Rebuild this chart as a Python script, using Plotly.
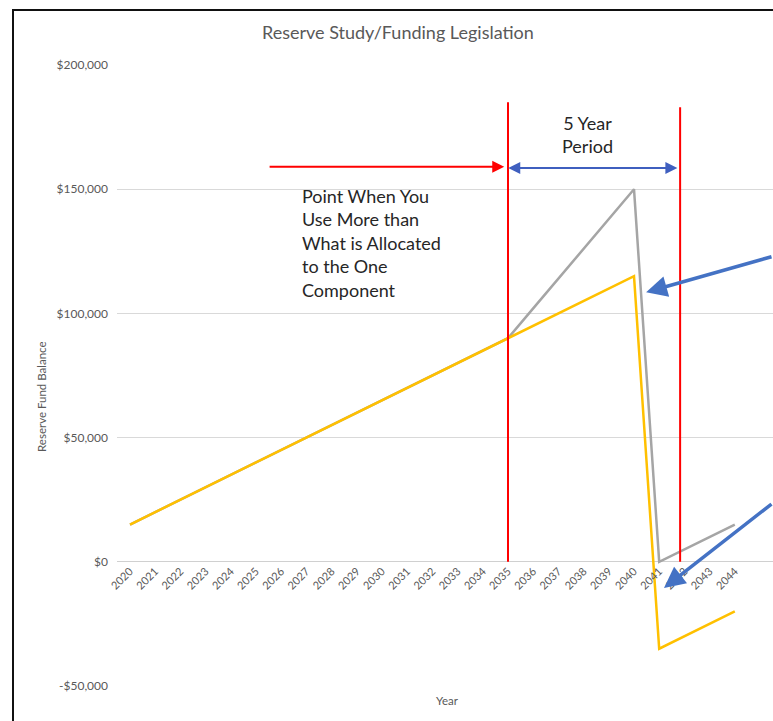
import plotly.graph_objects as go

# Reserve fund balance by year
years = [2020, 2021, 2022, 2023, 2024, 2025, 2026, 2027, 2028, 2029,
         2030, 2031, 2032, 2033, 2034, 2035, 2036, 2037, 2038, 2039,
         2040, 2041, 2042, 2043, 2044]

full_funding = [15000, 20000, 25000, 30000, 35000, 40000, 45000, 50000,
                55000, 60000, 65000, 70000, 75000, 80000, 85000, 90000,
                102000, 114000, 126000, 138000, 150000, 0, 5000, 10000,
                15000]

allocated_only = [15000, 20000, 25000, 30000, 35000, 40000, 45000, 50000,
                  55000, 60000, 65000, 70000, 75000, 80000, 85000, 90000,
                  95000, 100000, 105000, 110000, 115000, -35000, -30000,
                  -25000, -20000]

y_ticks = [-50000, 0, 50000, 100000, 150000, 200000]
y_tick_text = ["-$50,000", "$0", "$50,000", "$100,000", "$150,000", "$200,000"]

W, H = 773, 721
ML, MR, MT, MB = 117, 0, 65, 35
PW, PH = W - ML - MR, H - MT - MB

FONT = "Lato"
GREY_TXT = "#595959"
RED = "#FF0000"
BLUE = "#4472C4"
DARK_BLUE = "#3F5FBF"


def px_x(px):
    return (px - ML) / PW


def px_y(py):
    return (H - MB - py) / PH


fig = go.Figure()
fig.add_trace(go.Scatter(x=years, y=full_funding, mode="lines",
                         line=dict(color="#A5A5A5", width=2.5),
                         name="Full funding", hoverinfo="skip"))
fig.add_trace(go.Scatter(x=years, y=allocated_only, mode="lines",
                         line=dict(color="#FFC000", width=2.5),
                         name="Allocated", hoverinfo="skip"))

shapes = [
    # outer chart frame
    dict(type="rect", xref="paper", yref="paper",
         x0=px_x(13), x1=px_x(790), y0=px_y(740), y1=px_y(10),
         line=dict(color="#111111", width=2), fillcolor="rgba(0,0,0,0)"),
    # start and end of the 5 year period
    dict(type="line", xref="x", yref="y", x0=2035, x1=2035, y0=0, y1=185000,
         line=dict(color=RED, width=2)),
    dict(type="line", xref="x", yref="y", x0=2041.83, x1=2041.83, y0=0, y1=183000,
         line=dict(color=RED, width=2)),
]

annotations = [
    dict(text="Reserve Study/Funding Legislation", xref="paper", yref="paper",
         x=px_x(398), y=px_y(32), xanchor="center", yanchor="middle",
         showarrow=False, font=dict(family=FONT, size=18, color=GREY_TXT)),
    dict(text="Reserve Fund Balance", xref="paper", yref="paper",
         x=px_x(42), y=px_y(397), xanchor="center", yanchor="middle",
         textangle=-90, showarrow=False,
         font=dict(family=FONT, size=11.5, color=GREY_TXT)),
    dict(text="Year", xref="paper", yref="paper",
         x=px_x(447), y=px_y(700), xanchor="center", yanchor="middle",
         showarrow=False, font=dict(family=FONT, size=11.5, color=GREY_TXT)),
    # red arrow pointing to the start of the period
    dict(x=2034.85, y=159000, ax=2025.48, ay=159000, xref="x", yref="y",
         axref="x", ayref="y", text="", showarrow=True, arrowhead=2,
         arrowsize=1.2, arrowwidth=2, arrowcolor=RED, standoff=0),
    # double arrow spanning the 5 year period
    dict(x=2041.72, y=158500, ax=2034.95, ay=158500, xref="x", yref="y",
         axref="x", ayref="y", text="", showarrow=True, arrowhead=2,
         startarrowhead=2, arrowside="end+start", arrowsize=1.2,
         startarrowsize=1.2, arrowwidth=2, arrowcolor=DARK_BLUE,
         standoff=0, startstandoff=0),
    dict(text="5 Year<br>Period", xref="paper", yref="paper",
         x=px_x(587), y=px_y(134), xanchor="center", yanchor="middle",
         showarrow=False, align="center",
         font=dict(family=FONT, size=18, color="#262626")),
    dict(text="Point When You<br>Use More than<br>What is Allocated<br>to the One<br>Component",
         xref="paper", yref="paper", x=px_x(300), y=px_y(243),
         xanchor="left", yanchor="middle", align="left", showarrow=False,
         font=dict(family=FONT, size=18, color="#262626")),
    # blue callout arrows
    dict(x=2040.48, y=108500, xref="x", yref="y", ax=135, ay=-36,
         text="", showarrow=True, arrowhead=2, arrowsize=1.2,
         arrowwidth=3.5, arrowcolor=BLUE, standoff=0),
    dict(x=2041.19, y=-10500, xref="x", yref="y", ax=125, ay=-85,
         text="", showarrow=True, arrowhead=2, arrowsize=1.2,
         arrowwidth=3.5, arrowcolor=BLUE, standoff=0),
]

fig.update_layout(
    width=W, height=H,
    margin=dict(l=ML, r=MR, t=MT, b=MB),
    paper_bgcolor="white", plot_bgcolor="white",
    showlegend=False,
    shapes=shapes, annotations=annotations,
    xaxis=dict(
        range=[2019.484, 2019.484 + PW / 25.2],
        tickvals=years, ticktext=[str(y) for y in years],
        tickangle=-45, anchor="free", position=0.2,
        showgrid=False, zeroline=False, showline=False, ticks="",
        tickfont=dict(family=FONT, size=11, color=GREY_TXT),
    ),
    yaxis=dict(
        range=[-50000, 200000], tickvals=y_ticks, ticktext=y_tick_text,
        showgrid=True, gridcolor="#D9D9D9", gridwidth=1,
        zeroline=True, zerolinecolor="#D0D0D0", zerolinewidth=1,
        showline=False, ticks="", ticklabelstandoff=8,
        tickfont=dict(family=FONT, size=12, color=GREY_TXT),
    ),
)

fig.write_html("out.html")
